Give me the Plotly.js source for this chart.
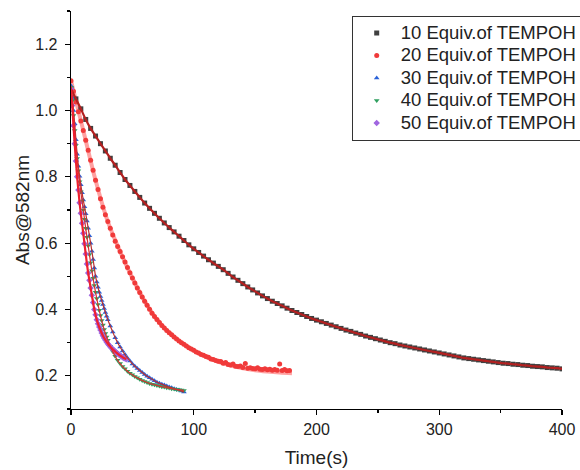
<!DOCTYPE html>
<html>
<head>
<meta charset="utf-8">
<script src="https://cdn.plot.ly/plotly-3.0.1.min.js"></script>
<style>html,body{margin:0;padding:0;background:#fff;}#chart{width:580px;height:470px;}</style>
</head>
<body>
<div id="chart"></div>
<script>
const seriesNames = ["10 Equiv.of TEMPOH","20 Equiv.of TEMPOH","30 Equiv.of TEMPOH","40 Equiv.of TEMPOH","50 Equiv.of TEMPOH"];

const time10 = [0,4,8,12,16,20,24,28,32,36,40,44,48,52,56,60,64,68,72,76,80,84,88,92,96,100,104,108,112,116,120,124,128,132,136,140,144,148,152,156,160,164,168,172,176,180,184,188,192,196,200,204,208,212,216,220,224,228,232,236,240,244,248,252,256,260,264,268,272,276,280,284,288,292,296,300,304,308,312,316,320,324,328,332,336,340,344,348,352,356,360,364,368,372,376,380,384,388,392,396,400];
const abs10 = [1.065,1.035,1.005,0.973,0.946,0.923,0.900,0.878,0.856,0.835,0.813,0.792,0.774,0.756,0.738,0.721,0.705,0.690,0.675,0.661,0.647,0.634,0.621,0.608,0.595,0.583,0.572,0.561,0.550,0.540,0.530,0.520,0.509,0.498,0.488,0.478,0.468,0.459,0.450,0.441,0.433,0.425,0.418,0.411,0.404,0.397,0.391,0.385,0.379,0.373,0.368,0.363,0.358,0.353,0.348,0.343,0.338,0.334,0.329,0.325,0.320,0.316,0.312,0.308,0.304,0.300,0.297,0.293,0.290,0.287,0.284,0.281,0.278,0.275,0.272,0.269,0.266,0.263,0.260,0.257,0.254,0.252,0.250,0.248,0.246,0.244,0.242,0.240,0.238,0.237,0.235,0.234,0.232,0.231,0.229,0.228,0.227,0.225,0.224,0.223,0.221];

const time20 = [0,2,4,6,8,10,12,14,16,18,20,22,24,26,28,30,32,34,36,38,40,42,44,46,48,50,52,54,56,58,60,62,64,66,68,70,72,74,76,78,80,82,84,86,88,90,92,94,96,98,100,102,104,106,108,110,112,114,116,118,120,122,124,126,128,130,132,134,136,138,140,142,144,146,148,150,152,154,156,158,160,162,164,166,168,170,172,174,176,178];
const abs20 = [1.090,1.058,1.026,0.996,0.968,0.940,0.910,0.880,0.850,0.820,0.790,0.762,0.734,0.708,0.686,0.665,0.645,0.625,0.606,0.590,0.575,0.559,0.543,0.527,0.511,0.495,0.480,0.465,0.451,0.438,0.425,0.413,0.401,0.389,0.379,0.370,0.361,0.352,0.344,0.337,0.330,0.324,0.317,0.311,0.305,0.300,0.295,0.290,0.285,0.281,0.277,0.272,0.269,0.264,0.262,0.258,0.256,0.251,0.249,0.246,0.244,0.243,0.238,0.240,0.234,0.233,0.236,0.229,0.228,0.230,0.225,0.237,0.223,0.224,0.222,0.221,0.224,0.220,0.219,0.221,0.218,0.220,0.217,0.219,0.217,0.236,0.216,0.219,0.215,0.216];
const fitTime20 = [0,10,20,30,40,50,60,70,80,90,100,110,120,130,140,150,160,170,180];
const fitAbs20 = [1.090,0.940,0.790,0.665,0.575,0.495,0.425,0.370,0.330,0.300,0.276,0.257,0.242,0.231,0.223,0.217,0.213,0.210,0.208];

const timeFast = [0,1,2,3,4,5,6,7,8,9,10,11,12,13,14,15,16,17,18,19,20,21,22,23,24,25,26,27,28,29,30,32,34,36,38,40,42,44,46,48,50,52,54,56,58,60,62,64,66,68,70,72,74,76,78,80,82,84,86,88,90,92];
const abs30 = [1.075,1.040,1.000,0.960,0.912,0.868,0.832,0.802,0.776,0.752,0.730,0.710,0.689,0.667,0.645,0.622,0.600,0.576,0.551,0.525,0.500,0.483,0.467,0.452,0.439,0.427,0.415,0.403,0.391,0.380,0.369,0.350,0.332,0.315,0.300,0.287,0.275,0.264,0.254,0.245,0.236,0.229,0.222,0.216,0.210,0.204,0.199,0.194,0.190,0.185,0.181,0.178,0.175,0.172,0.169,0.166,0.164,0.161,0.159,0.157,0.154,0.151];
const abs40 = [1.070,1.030,0.985,0.940,0.895,0.855,0.818,0.785,0.755,0.727,0.700,0.672,0.645,0.618,0.592,0.566,0.541,0.517,0.494,0.472,0.452,0.433,0.415,0.398,0.382,0.367,0.353,0.340,0.328,0.317,0.307,0.289,0.273,0.259,0.247,0.237,0.228,0.221,0.214,0.208,0.203,0.198,0.194,0.190,0.186,0.183,0.180,0.177,0.175,0.173,0.171,0.169,0.167,0.166,0.164,0.163,0.161,0.160,0.159,0.158,0.157,0.156];
const time50 = [0,1,2,3,4,5,6,7,8,9,10,11,12,13,14,15,16,17,18,19,20,21,22,23,24,25,26,27,28,29,30,31,32,33,34,35,36,37,38,39,40,41,42,43,44,45];
const abs50 = [1.065,1.015,0.955,0.900,0.848,0.800,0.760,0.722,0.690,0.660,0.630,0.598,0.567,0.537,0.510,0.488,0.465,0.443,0.421,0.400,0.384,0.369,0.357,0.347,0.338,0.329,0.321,0.314,0.308,0.302,0.297,0.292,0.288,0.284,0.280,0.277,0.273,0.270,0.267,0.264,0.261,0.259,0.256,0.254,0.252,0.250];

const xTicks = [0,100,200,300,400];
const yTicks = [0.2,0.4,0.6,0.8,1.0,1.2];

const FONT = "Arial, 'Liberation Sans', sans-serif";

function markers(x, y, name, symbol, color) {
  return {x: x, y: y, name: '<span style="font-size:18.5px">' + name + '</span>', type: 'scatter', mode: 'markers',
    marker: {symbol: symbol, size: 5, color: color, line: {width: 0}}};
}
function fit(x, y, color, width) {
  return {x: x, y: y, type: 'scatter', mode: 'lines', showlegend: false, hoverinfo: 'skip',
    line: {color: color, width: width, shape: 'spline'}};
}

const traces = [
  fit(fitTime20, fitAbs20, 'rgba(255,110,110,0.65)', 4),
  markers(time10, abs10, seriesNames[0], 'square', '#404040'),
  markers(time20, abs20, seriesNames[1], 'circle', '#f03a3a'),
  markers(timeFast, abs30, seriesNames[2], 'triangle-up', '#2a62d8'),
  markers(timeFast, abs40, seriesNames[3], 'triangle-down', '#2f9f5f'),
  markers(time50, abs50, seriesNames[4], 'diamond', '#a066e0'),
  fit(time10, abs10, '#b32020', 2.2),
  fit(timeFast, abs30, '#b83030', 1.2),
  fit(timeFast, abs40, '#d83030', 1.2),
  fit(time50, abs50, '#ee2030', 2.2)
];

const axisCommon = {
  showline: true, linecolor: '#000', linewidth: 1.3, mirror: false,
  showgrid: false, zeroline: false,
  ticks: 'outside', ticklen: 5, tickwidth: 1.3, tickcolor: '#000',
  tickfont: {family: FONT, size: 16, color: '#222'}
};

const layout = {
  width: 580, height: 470,
  margin: {l: 71, r: 18, t: 11, b: 61, autoexpand: false},
  paper_bgcolor: '#fff', plot_bgcolor: '#fff',
  font: {family: FONT, color: '#222'},
  showlegend: true,
  legend: {
    x: 0.5717, y: 0.988, xanchor: 'left', yanchor: 'top',
    bgcolor: '#fff', bordercolor: '#333', borderwidth: 1,
    font: {family: FONT, size: 15, color: '#222'},
    itemwidth: 38, tracegroupgap: 0
  },
  xaxis: Object.assign({}, axisCommon, {
    range: [0, 400], tickvals: xTicks, ticktext: xTicks.map(String),
    minor: {ticks: 'outside', ticklen: 3, tickwidth: 1.3, tickcolor: '#000', dtick: 50, tick0: 0},
    title: {text: 'Time(s)', font: {family: FONT, size: 19, color: '#222'}, standoff: 14}
  }),
  yaxis: Object.assign({}, axisCommon, {
    range: [0.1, 1.3], tickvals: yTicks, ticktext: yTicks.map(v => v.toFixed(1)),
    ticklabelstandoff: 4,
    minor: {ticks: 'outside', ticklen: 3, tickwidth: 1.3, tickcolor: '#000', dtick: 0.1, tick0: 0.1},
    title: {text: 'Abs@582nm', font: {family: FONT, size: 19, color: '#222'}, standoff: 0}
  })
};

Plotly.newPlot('chart', traces, layout, {staticPlot: true, displayModeBar: false});
</script>
</body>
</html>
